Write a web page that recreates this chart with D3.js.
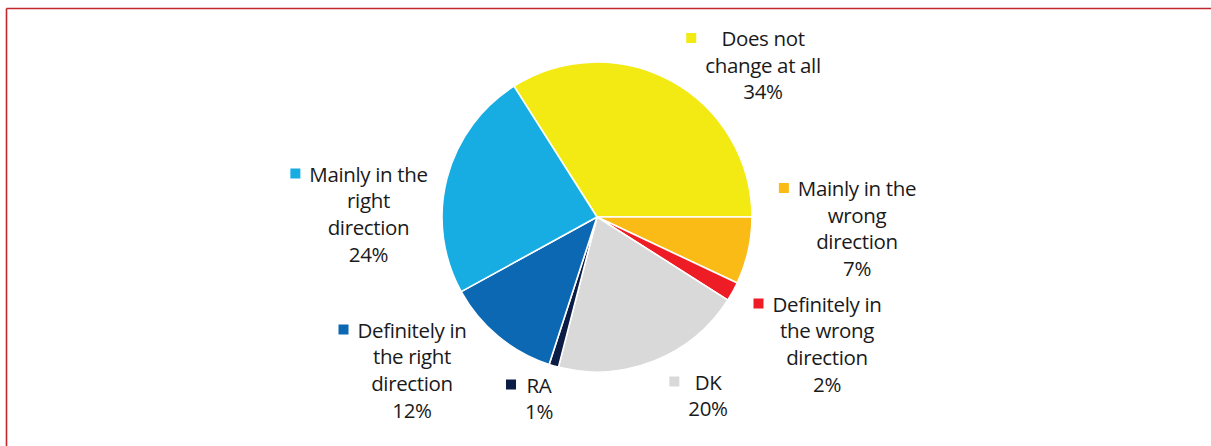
<!DOCTYPE html>
<html>
<head>
<meta charset="utf-8">
<script src="https://cdn.jsdelivr.net/npm/d3@7"></script>
<style>
  html, body { margin: 0; padding: 0; background: #fff; }
  svg { display: block; }
  .lbl { font-family: "Open Sans", "Noto Sans", sans-serif; font-size: 20.5px; fill: #1a1a1a; letter-spacing: -0.35px; }
</style>
</head>
<body>
<svg id="chart" width="1211" height="446"></svg>
<script>
// Survey answers, clockwise from the top-right slice
const categories = [
  "Does not change at all",
  "Mainly in the wrong direction",
  "Definitely in the wrong direction",
  "DK",
  "RA",
  "Definitely in the right direction",
  "Mainly in the right direction"
];
const shares = [34, 7, 2, 20, 1, 12, 24];
const sliceColors = ["#f2ea12", "#fbbb16", "#ee1d25", "#d9d9d9", "#0b1c45", "#0c68b2", "#17ade2"];
const labelLines = [
  ["Does not", "change at all"],
  ["Mainly in the", "wrong", "direction"],
  ["Definitely in", "the wrong", "direction"],
  ["DK"],
  ["RA"],
  ["Definitely in", "the right", "direction"],
  ["Mainly in the", "right", "direction"]
];

// Label placement: centre x of the text block, baseline of its first line
const labelPos = [
  { cx: 763, y: 46 },
  { cx: 857, y: 196 },
  { cx: 827, y: 311.5 },
  { cx: 708, y: 389.5 },
  { cx: 539, y: 392.5 },
  { cx: 412, y: 337.5 },
  { cx: 368.5, y: 181.5 }
];

const W = 1211, H = 446;
const cx = 597, cy = 217, R = 155;
const lineGap = 26.7;

const svg = d3.select("#chart");

// frame: top and left rules
svg.append("line").attr("x1", 6.5).attr("x2", W).attr("y1", 8.5).attr("y2", 8.5)
  .attr("stroke", "#c1272d").attr("stroke-width", 1.6);
svg.append("line").attr("x1", 6.5).attr("x2", 6.5).attr("y1", 8.5).attr("y2", H)
  .attr("stroke", "#c1272d").attr("stroke-width", 1.6);

const data = categories.map((c, i) => ({ name: c, value: shares[i], color: sliceColors[i], lines: labelLines[i], pos: labelPos[i] }));

// first slice ends at 3 o'clock
const total = d3.sum(shares);
const start = Math.PI / 2 - (shares[0] / total) * 2 * Math.PI;

const pie = d3.pie().value(d => d.value).sort(null)
  .startAngle(start).endAngle(start + 2 * Math.PI);
const arc = d3.arc().innerRadius(0).outerRadius(R);

const g = svg.append("g").attr("transform", `translate(${cx},${cy})`);
g.selectAll("path").data(pie(data)).join("path")
  .attr("d", arc)
  .attr("fill", d => d.data.color)
  .attr("stroke", "#fff")
  .attr("stroke-width", 1.6)
  .attr("stroke-linejoin", "round");

// labels: name lines + percentage, with a colour key left of the first line
const labels = svg.append("g");
data.forEach(d => {
  const lg = labels.append("g");
  const lines = d.lines.concat([d.value + "%"]);
  const texts = lines.map((t, k) =>
    lg.append("text").attr("class", "lbl")
      .attr("x", d.pos.cx).attr("y", d.pos.y + k * lineGap)
      .attr("text-anchor", "middle").text(t)
  );
  const maxW = d3.max(texts, t => t.node().getComputedTextLength());
  const left = d.pos.cx - maxW / 2;
  lg.append("rect")
    .attr("x", left - 19).attr("y", d.pos.y - 13)
    .attr("width", 10).attr("height", 10)
    .attr("fill", d.color);
});
</script>
</body>
</html>
